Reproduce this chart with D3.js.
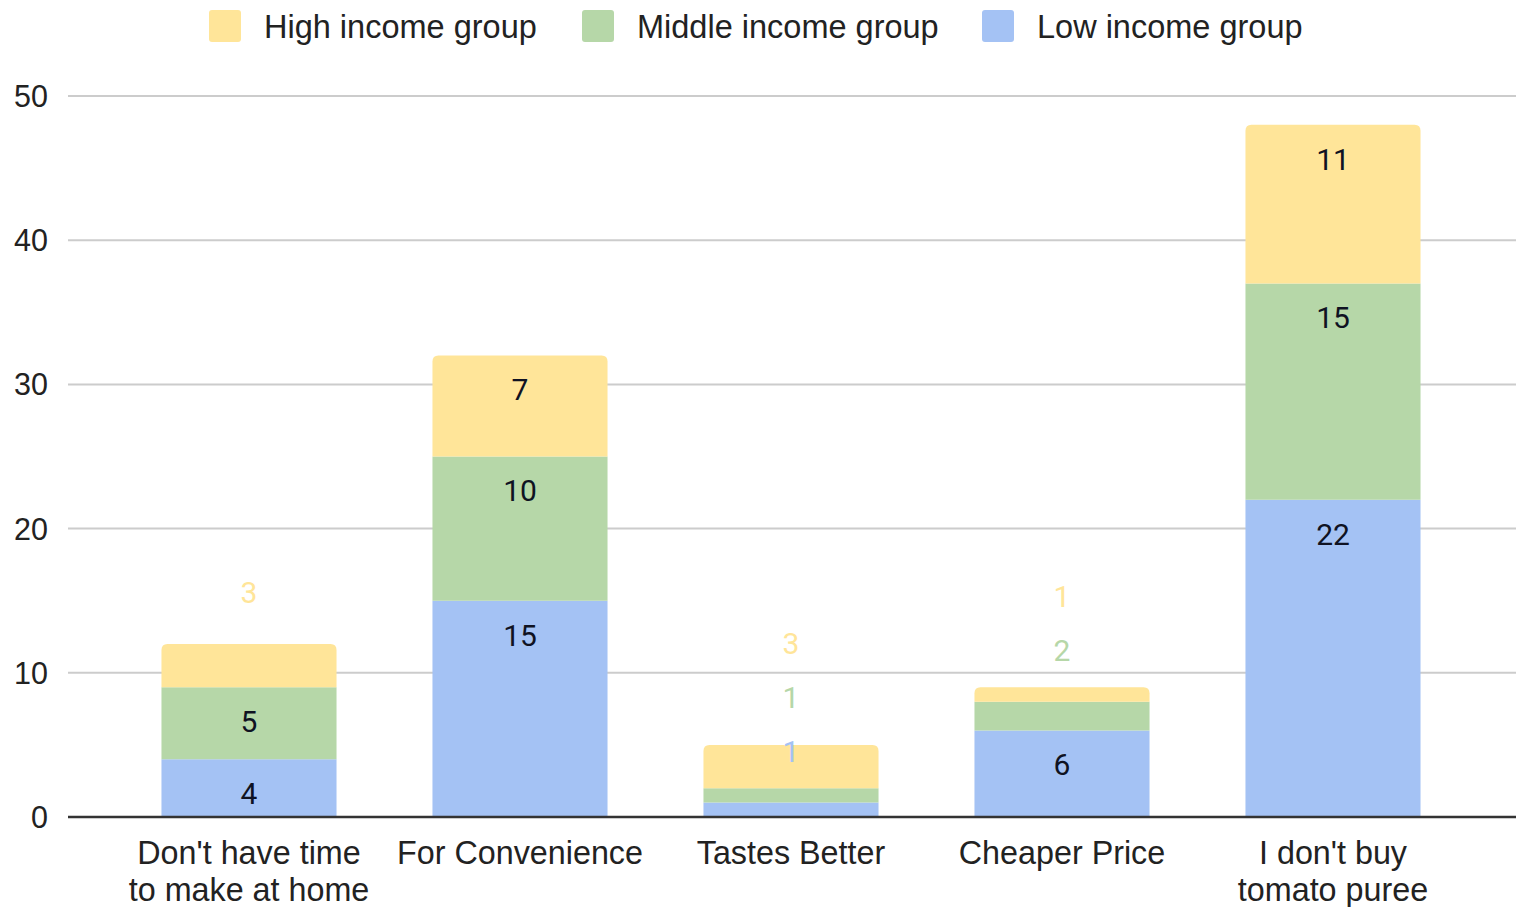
<!DOCTYPE html>
<html>
<head>
<meta charset="utf-8">
<script src="https://cdn.jsdelivr.net/npm/d3@7"></script>
<style>
  html, body { margin: 0; padding: 0; background: #fff; }
  svg { display: block; }
</style>
</head>
<body>
<svg id="chart" width="1516" height="907"></svg>
<script>
// Reasons for buying tomato puree, by income group
const categories = [
  ["Don't have time", "to make at home"],
  ["For Convenience"],
  ["Tastes Better"],
  ["Cheaper Price"],
  ["I don't buy", "tomato puree"]
];
const seriesNames = ["Low income group", "Middle income group", "High income group"];
const lowIncome    = [4, 15, 1, 6, 22];
const middleIncome = [5, 10, 1, 2, 15];
const highIncome   = [3, 7, 3, 1, 11];
const yTicks = [0, 10, 20, 30, 40, 50];

const seriesValues = [lowIncome, middleIncome, highIncome];
const colors = ["#a4c2f4", "#b6d7a8", "#ffe599"];

const W = 1516, H = 907;
const svg = d3.select("#chart");
const axisFont = "'Liberation Sans', Arial, sans-serif";
const labelFont = "Roboto, 'Noto Sans', sans-serif";

const x = d3.scaleBand()
  .domain(d3.range(categories.length))
  .range([113.5, 1468.5])
  .paddingInner(0.354)
  .paddingOuter(0.177);

const y = d3.scaleLinear().domain([0, 50]).range([817, 96]);

// gridlines
svg.append("g").selectAll("line")
  .data(yTicks.filter(t => t !== 0))
  .join("line")
  .attr("x1", 68).attr("x2", 1516)
  .attr("y1", d => y(d)).attr("y2", d => y(d))
  .attr("stroke", "#cccccc").attr("stroke-width", 2);

// y tick labels
svg.append("g").selectAll("text")
  .data(yTicks)
  .join("text")
  .attr("x", 48).attr("y", d => y(d))
  .attr("dy", "0.36em")
  .attr("text-anchor", "end")
  .attr("font-family", axisFont)
  .attr("font-size", 30.5)
  .attr("fill", "#222")
  .text(d => d);

// stacked data
const rows = categories.map((c, i) => {
  const o = { i };
  seriesValues.forEach((s, k) => o[k] = s[i]);
  return o;
});
const stack = d3.stack().keys(d3.range(seriesValues.length));
const layers = stack(rows);

const bw = x.bandwidth();
const r = 6;

function segPath(x0, y0, w, y1, rounded) {
  // y0 top, y1 bottom
  if (!rounded) return `M${x0},${y1}V${y0}H${x0 + w}V${y1}Z`;
  return `M${x0},${y1}V${y0 + r}Q${x0},${y0} ${x0 + r},${y0}H${x0 + w - r}Q${x0 + w},${y0} ${x0 + w},${y0 + r}V${y1}Z`;
}

const barsG = svg.append("g");
layers.forEach((layer, k) => {
  barsG.append("g").selectAll("path")
    .data(layer)
    .join("path")
    .attr("fill", colors[k])
    .attr("d", (d, i) => {
      const isTop = k === layers.length - 1;
      return segPath(x(i), y(d[1]), bw, y(d[0]), isTop);
    });
});

// x axis baseline
svg.append("line")
  .attr("x1", 68).attr("x2", 1516)
  .attr("y1", y(0)).attr("y2", y(0))
  .attr("stroke", "#333").attr("stroke-width", 2.5);

// data labels: inside when the segment is tall enough, otherwise above the bar
const labelsG = svg.append("g");
const minInside = 50, outsideGap = 51.6, outsideStep = 54;
categories.forEach((c, i) => {
  let lastOutside = null;
  layers.forEach((layer, k) => {
    const d = layer[i];
    const v = d[1] - d[0];
    if (!v) return;
    const top = y(d[1]), bottom = y(d[0]);
    const cx = x(i) + bw / 2;
    let cy, fill;
    if (bottom - top >= minInside) {
      cy = top + 34;
      fill = "#0f1222";
    } else {
      cy = top - outsideGap;
      if (lastOutside !== null && cy > lastOutside - outsideStep) cy = lastOutside - outsideStep;
      lastOutside = cy;
      fill = colors[k];
    }
    labelsG.append("text")
      .attr("x", cx).attr("y", cy)
      .attr("dy", "0.36em")
      .attr("text-anchor", "middle")
      .attr("font-family", labelFont)
      .attr("font-size", 30)
      .attr("fill", fill)
      .text(v);
  });
});

// category labels
const xl = svg.append("g");
categories.forEach((lines, i) => {
  const t = xl.append("text")
    .attr("text-anchor", "middle")
    .attr("font-family", axisFont)
    .attr("font-size", 32.3)
    .attr("fill", "#222");
  lines.forEach((ln, j) => {
    t.append("tspan")
      .attr("x", x(i) + bw / 2)
      .attr("y", 852 + j * 37)
      .attr("dy", "0.36em")
      .text(ln);
  });
});

// legend (drawn High, Middle, Low)
const legendOrder = [2, 1, 0];
const legendX = [209, 582, 982];
const lg = svg.append("g");
legendOrder.forEach((k, j) => {
  lg.append("rect")
    .attr("x", legendX[j]).attr("y", 10)
    .attr("width", 32).attr("height", 32)
    .attr("rx", 3)
    .attr("fill", colors[k]);
  lg.append("text")
    .attr("x", legendX[j] + 55).attr("y", 26)
    .attr("dy", "0.36em")
    .attr("font-family", axisFont)
    .attr("font-size", 32.5)
    .attr("fill", "#222")
    .text(seriesNames[k]);
});
</script>
</body>
</html>
